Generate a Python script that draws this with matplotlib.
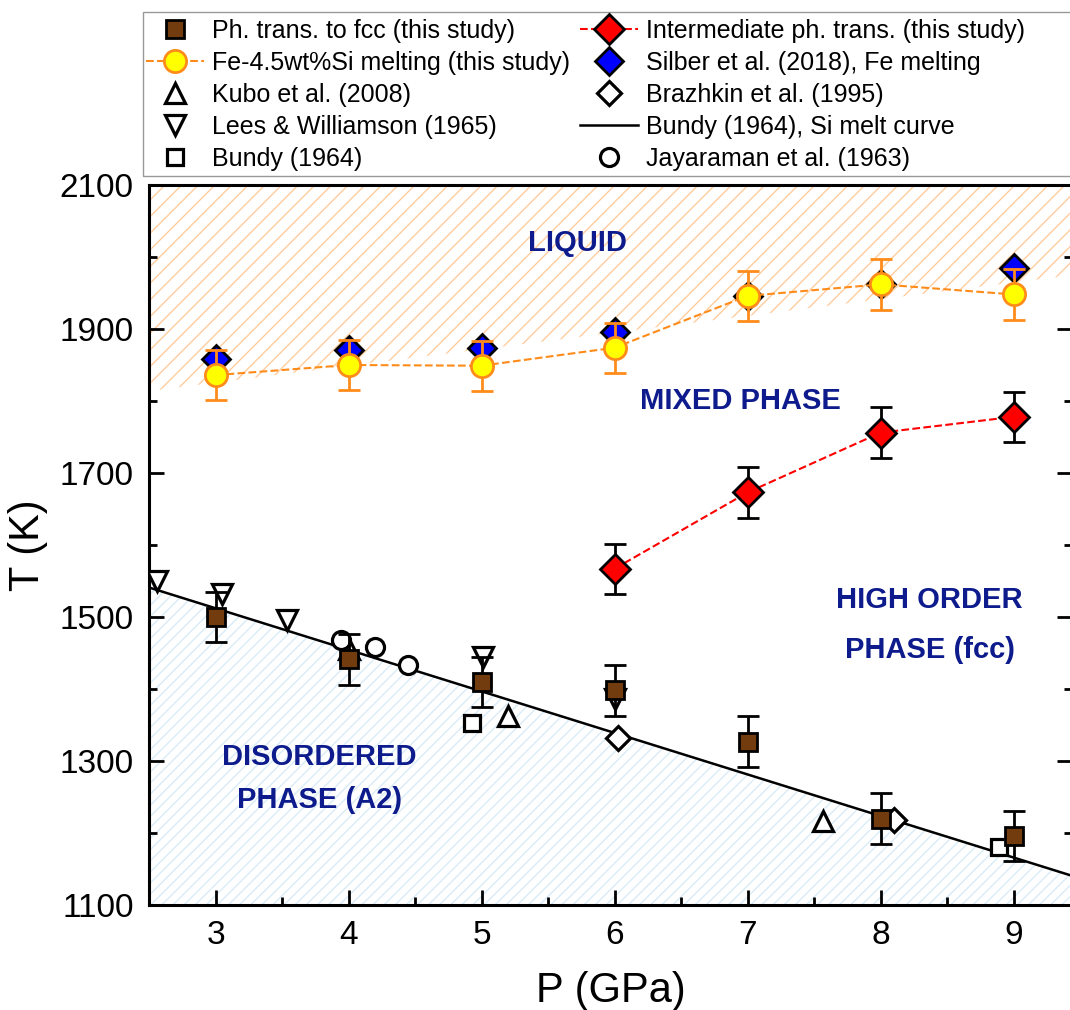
import matplotlib
matplotlib.use("Agg")
import matplotlib.pyplot as plt
from matplotlib.patches import Rectangle
from matplotlib.ticker import MultipleLocator

plt.rcParams["font.family"] = ["Liberation Sans", "DejaVu Sans"]
plt.rcParams["hatch.linewidth"] = 1.0

# this study
P_study = [3, 4, 5, 6, 7, 8, 9]
T_fcc = [1500, 1441, 1410, 1398, 1327, 1220, 1196]
T_fcc_err = [35, 35, 35, 35, 35, 35, 35]
T_melt = [1836, 1850, 1849, 1874, 1946, 1962, 1948]
T_melt_err = [35, 35, 35, 35, 35, 35, 35]
P_inter = [6, 7, 8, 9]
T_inter = [1567, 1673, 1756, 1778]
T_inter_err = [35, 35, 35, 35]

# literature
T_silber = [1858, 1871, 1874, 1896, 1946, 1962, 1985]
P_kubo = [4.0, 5.2, 7.57]
T_kubo = [1455, 1363, 1216]
P_brazhkin = [6.03, 8.1]
T_brazhkin = [1332, 1218]
P_lees = [2.56, 3.05, 3.54, 5.01, 6.0]
T_lees = [1550, 1532, 1496, 1444, 1386]
P_bundy_curve = [2.5, 9.45]
T_bundy_curve = [1541, 1140]
P_bundy = [4.93, 8.89]
T_bundy = [1353, 1180]
P_jaya = [3.94, 4.2, 4.45]
T_jaya = [1468, 1459, 1434]

# phase field boundary (liquid hatch)
P_liq = [2.5, 9.45]
T_liq = [1814, 1975]

y_ticks = [1100, 1300, 1500, 1700, 1900, 2100]

navy = "#0d1b8c"
orange = "#ff8c1a"

fig = plt.figure(figsize=(10.7, 10.1), dpi=100)
ax = fig.add_axes([149 / 1070, 105 / 1010, 923 / 1070, 720 / 1010])

ax.fill_between(P_liq, T_liq, [2100, 2100], facecolor="none",
                edgecolor="#ffcc9e", hatch="//", linewidth=0, zorder=0)
ax.fill_between(P_bundy_curve, [1100, 1100], T_bundy_curve, facecolor="none",
                edgecolor="#d9ecf7", hatch="///", linewidth=0, zorder=0)

h_curve, = ax.plot(P_bundy_curve, T_bundy_curve, "-", color="black", lw=1.8,
                   zorder=2, label="Bundy (1964), Si melt curve")

op = dict(ls="none", mfc="white", mec="black", mew=2.3, zorder=3)
h_kubo, = ax.plot(P_kubo, T_kubo, "^", ms=14, label="Kubo et al. (2008)", **op)
h_braz, = ax.plot(P_brazhkin, T_brazhkin, "D", ms=12, label="Brazhkin et al. (1995)", **op)
h_lees, = ax.plot(P_lees, T_lees, "v", ms=14, label="Lees & Williamson (1965)", **op)
h_bundy, = ax.plot(P_bundy, T_bundy, "s", ms=12, label="Bundy (1964)", **op)
h_jaya, = ax.plot(P_jaya, T_jaya, "o", ms=13, label="Jayaraman et al. (1963)", **op)

h_silber, = ax.plot(P_study, T_silber, "D", ms=14, mfc="#0000ff", mec="black",
                    mew=2, ls="none", zorder=4,
                    label="Silber et al. (2018), Fe melting")

ax.errorbar(P_study, T_melt, yerr=T_melt_err, fmt="none", ecolor=orange,
            elinewidth=2, capsize=8, capthick=2, zorder=5)
h_melt, = ax.plot(P_study, T_melt, "--o", color=orange, lw=1.5, ms=16,
                  mfc="#ffff00", mec=orange, mew=2, zorder=6,
                  label="Fe-4.5wt%Si melting (this study)")

ax.errorbar(P_inter, T_inter, yerr=T_inter_err, fmt="none", ecolor="black",
            elinewidth=2, capsize=8, capthick=2, zorder=5)
h_inter, = ax.plot(P_inter, T_inter, "--D", color="#ff0000", lw=1.5, ms=15,
                   mfc="#ff0000", mec="black", mew=2, zorder=6,
                   label="Intermediate ph. trans. (this study)")

ax.errorbar(P_study, T_fcc, yerr=T_fcc_err, fmt="none", ecolor="black",
            elinewidth=2, capsize=8, capthick=2, zorder=5)
h_fcc, = ax.plot(P_study, T_fcc, "s", ls="none", ms=13, mfc="#733c0e",
                 mec="black", mew=2, zorder=6,
                 label="Ph. trans. to fcc (this study)")

txt = dict(color=navy, fontsize=21, fontweight="bold", ha="center", va="center")
ax.text(5.72, 2019, "LIQUID", **txt)
ax.text(6.95, 1800, "MIXED PHASE", **txt)
ax.text(8.37, 1524, "HIGH ORDER", **txt)
ax.text(8.37, 1454, "PHASE (fcc)", **txt)
ax.text(3.78, 1306, "DISORDERED", **txt)
ax.text(3.78, 1246, "PHASE (A2)", **txt)

ax.set_xlim(2.5, 2.5 + 923 / 133)
ax.set_ylim(1100, 2100)
ax.xaxis.set_major_locator(MultipleLocator(1))
ax.xaxis.set_minor_locator(MultipleLocator(0.5))
ax.set_yticks(y_ticks)
ax.yaxis.set_minor_locator(MultipleLocator(100))
ax.tick_params(which="both", direction="in", top=False, right=True, width=2)
ax.tick_params(which="major", length=11, labelsize=24, pad=11)
ax.tick_params(which="minor", length=6)
for s in ax.spines.values():
    s.set_linewidth(2.2)

ax.set_xlabel("P (GPa)", fontsize=30, labelpad=14)
ax.set_ylabel("T (K)", fontsize=30, labelpad=8)

handles = [h_fcc, h_melt, h_kubo, h_lees, h_bundy,
           h_inter, h_silber, h_braz, h_curve, h_jaya]
leg = fig.legend(handles=handles, ncol=2, loc="upper left",
                 bbox_to_anchor=(146 / 1070, 1 - 19 / 1010),
                 fontsize=18, frameon=False,
                 handlelength=2.3, handletextpad=0.35, columnspacing=0.4,
                 labelspacing=0.32, borderpad=0.0, borderaxespad=0)

# legend frame reaching the right edge, as in the original layout
fig.patches.append(Rectangle((143 / 1070, 1 - 176 / 1010), 940 / 1070, 164 / 1010,
                             transform=fig.transFigure, facecolor="none",
                             edgecolor="#999999", linewidth=1.0))

fig.savefig("out.png", dpi=100)
